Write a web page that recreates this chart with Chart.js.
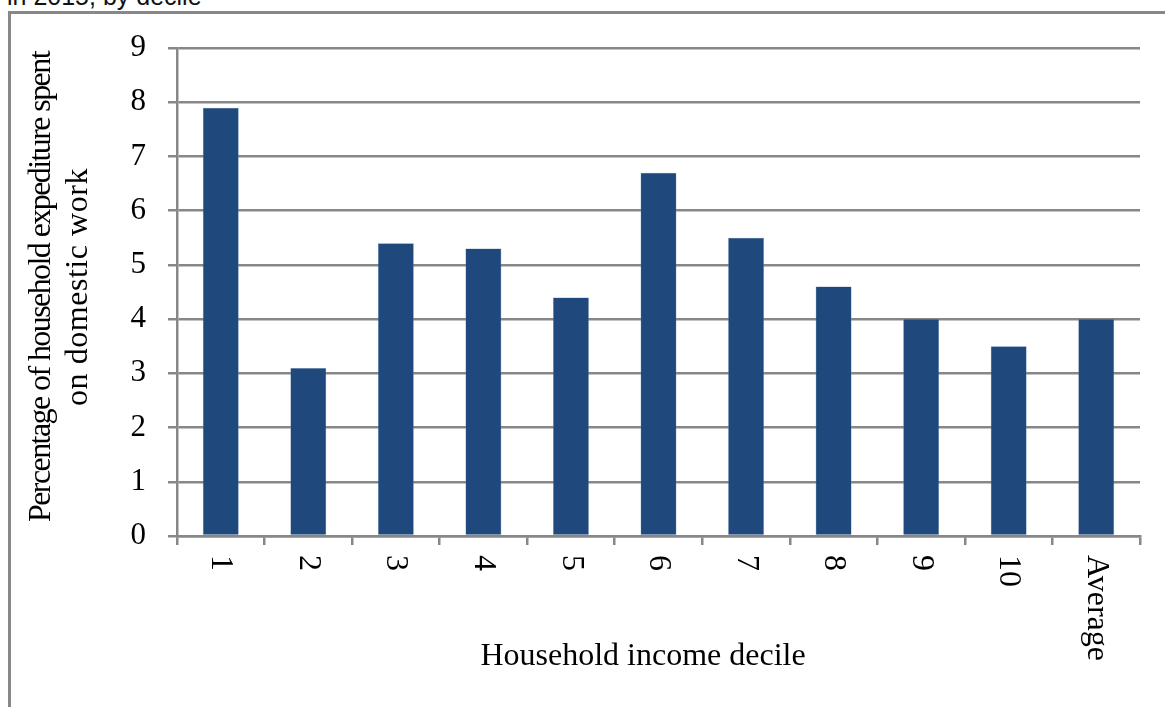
<!DOCTYPE html>
<html>
<head>
<meta charset="utf-8">
<script src="https://cdn.jsdelivr.net/npm/chart.js@4.4.1/dist/chart.umd.min.js"></script>
<style>
  html, body { margin: 0; padding: 0; background: #fff; overflow: hidden; }
  #wrap { position: relative; width: 1165px; height: 707px; overflow: hidden; }
  #caption { position: absolute; left: 7px; top: -16px; font: 25px/24px "Liberation Sans", Arial, sans-serif; color: #111; white-space: nowrap; }
  #frame { position: absolute; left: 8px; top: 11px; width: 1300px; height: 900px; border-left: 3px solid #888; border-top: 3px solid #888; }
  #c { position: absolute; left: 0; top: 0; }
</style>
</head>
<body>
<div id="wrap">
  <div id="caption">in 2015, by decile</div>
  <div id="frame"></div>
  <canvas id="c" width="1165" height="707"></canvas>
</div>
<script>
const categories = ['1', '2', '3', '4', '5', '6', '7', '8', '9', '10', 'Average'];
const shares = [7.9, 3.1, 5.4, 5.3, 4.4, 6.7, 5.5, 4.6, 4.0, 3.5, 4.0];
const yTickValues = [0, 1, 2, 3, 4, 5, 6, 7, 8, 9];
const xTitle = 'Household income decile';
const yTitleLines = ['Percentage of household expediture spent', 'on domestic work'];

const SERIF = '"Liberation Serif", "Times New Roman", serif';

const labelsPlugin = {
  id: 'customLabels',
  afterDraw(chart) {
    const ctx = chart.ctx;
    const xs = chart.scales.x;
    // rotated category labels (reading top to bottom)
    ctx.save();
    ctx.fillStyle = '#000';
    ctx.font = '32px ' + SERIF;
    ctx.textAlign = 'left';
    ctx.textBaseline = 'middle';
    categories.forEach((lab, i) => {
      const px = xs.getPixelForValue(i);
      ctx.save();
      ctx.translate(px, xs.top + 19);
      ctx.rotate(Math.PI / 2);
      ctx.fillText(lab, 0, 0);
      ctx.restore();
    });
    ctx.restore();

    // x axis title
    ctx.save();
    ctx.fillStyle = '#000';
    ctx.font = '32px ' + SERIF;
    ctx.textAlign = 'center';
    ctx.textBaseline = 'alphabetic';
    ctx.fillText(xTitle, 643, 665);
    ctx.restore();

    // y axis title (two lines, rotated)
    const targets = [470, 238];
    const baseX = [50, 87];
    ctx.save();
    ctx.fillStyle = '#000';
    ctx.font = '32px ' + SERIF;
    ctx.textAlign = 'center';
    ctx.textBaseline = 'alphabetic';
    yTitleLines.forEach((line, i) => {
      ctx.letterSpacing = '0px';
      const w = ctx.measureText(line).width;
      const sp = (targets[i] - w) / line.length;
      ctx.letterSpacing = sp.toFixed(2) + 'px';
      ctx.save();
      ctx.translate(baseX[i], 287);
      ctx.rotate(-Math.PI / 2);
      ctx.fillText(line, 0, 0);
      ctx.restore();
    });
    ctx.letterSpacing = '0px';
    ctx.restore();
  }
};

new Chart(document.getElementById('c'), {
  type: 'bar',
  data: {
    labels: categories,
    datasets: [{
      data: shares,
      backgroundColor: '#1f497d',
      borderColor: '#6f8db5',
      borderWidth: 0.5,
      barPercentage: 1,
      categoryPercentage: 0.41
    }]
  },
  options: {
    responsive: false,
    devicePixelRatio: 1,
    animation: false,
    layout: { padding: { top: 48, right: 25, left: 0, bottom: 0 } },
    plugins: { legend: { display: false }, tooltip: { enabled: false }, title: { display: false } },
    scales: {
      x: {
        type: 'category',
        offset: true,
        grid: { offset: true, drawOnChartArea: false, drawTicks: true, tickLength: 9, color: '#878787', lineWidth: 2.5 },
        border: { display: true, color: '#878787', width: 2.5 },
        ticks: { display: false, autoSkip: false },
        afterFit(scale) { scale.height = 171; }
      },
      y: {
        min: 0,
        max: 9,
        afterBuildTicks(scale) { scale.ticks = yTickValues.map(v => ({ value: v })); },
        grid: { color: '#878787', lineWidth: 2.5, tickLength: 9, drawTicks: true },
        border: { display: true, color: '#878787', width: 2.5 },
        ticks: { color: '#000', font: { family: SERIF, size: 31 }, padding: 22 },
        afterFit(scale) { scale.width = 177; }
      }
    }
  },
  plugins: [labelsPlugin]
});
</script>
</body>
</html>
